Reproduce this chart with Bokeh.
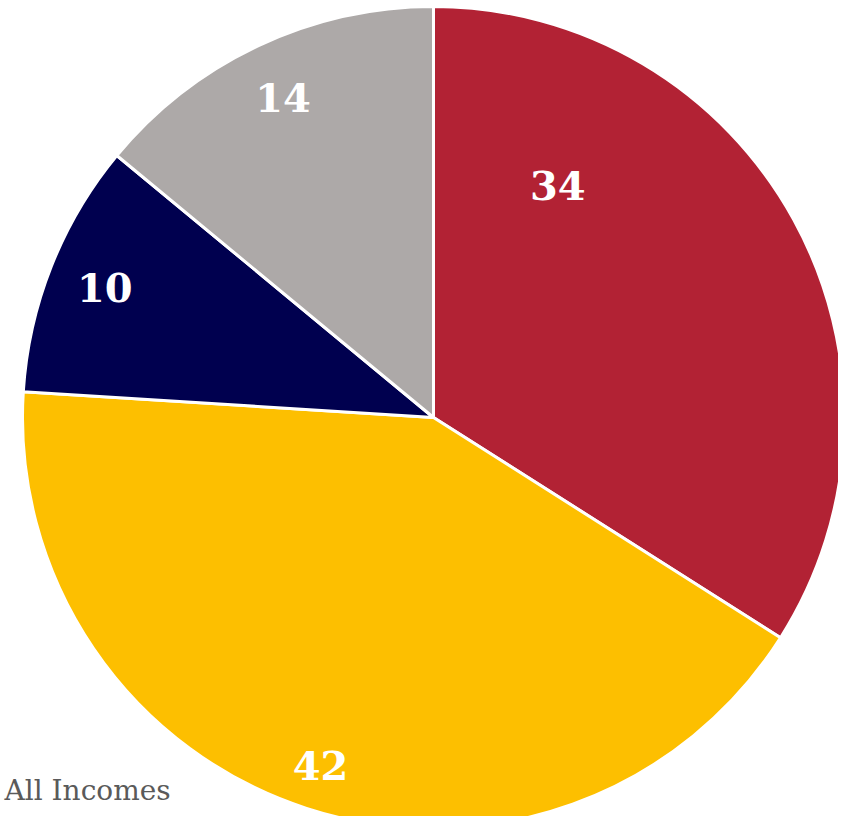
import math
from bokeh.plotting import figure
from bokeh.models import Range1d, ColumnDataSource
from bokeh.core.properties import value
from bokeh.embed import file_html
from bokeh.resources import INLINE

# data
categories = ["A", "B", "C", "D"]
values = [34, 42, 10, 14]
colors = ["#B22234", "#FDBF00", "#00004F", "#ADA9A8"]
title_text = "All Incomes"

W, H = 838, 816
p = figure(width=W, height=H, output_backend="svg", toolbar_location=None,
           x_range=Range1d(0, W), y_range=Range1d(0, H), min_border=0,
           background_fill_color="white", border_fill_color="white")
p.axis.visible = False
p.grid.visible = False
p.outline_line_color = None

cx, cy, r = 433, 399, 411
total = sum(values)
starts, ends, lx, ly = [], [], [], []
# label placement: angle shift (deg) and radius fraction per slice
label_shift = [-33, 0, 0, 0]
label_frac = [0.64, 0.89, 0.86, 0.86]
cum = 0
for i, v in enumerate(values):
    a0 = math.pi / 2 - 2 * math.pi * cum / total
    a1 = math.pi / 2 - 2 * math.pi * (cum + v) / total
    starts.append(a0)
    ends.append(a1)
    mid = (a0 + a1) / 2 - math.radians(label_shift[i])
    lx.append(cx + r * label_frac[i] * math.cos(mid))
    ly.append(cy + r * label_frac[i] * math.sin(mid))
    cum += v

src = ColumnDataSource(dict(start=starts, end=ends, color=colors,
                            lx=lx, ly=ly, txt=[str(v) for v in values]))
p.wedge(x=cx, y=cy, radius=r, start_angle="start", end_angle="end",
        direction="clock", fill_color="color", line_color="white",
        line_width=3, source=src)
p.text(x="lx", y="ly", text="txt", source=src, text_color="white",
       text_font=value("DejaVu Serif"), text_font_style="bold",
       text_font_size="40px", text_align="center", text_baseline="middle")
p.text(x=[4], y=[26], text=[title_text], text_color="#5A5A5A",
       text_font=value("DejaVu Serif"), text_font_size="28px",
       text_align="left", text_baseline="middle")

open("out.html", "w").write(file_html(p, INLINE))
